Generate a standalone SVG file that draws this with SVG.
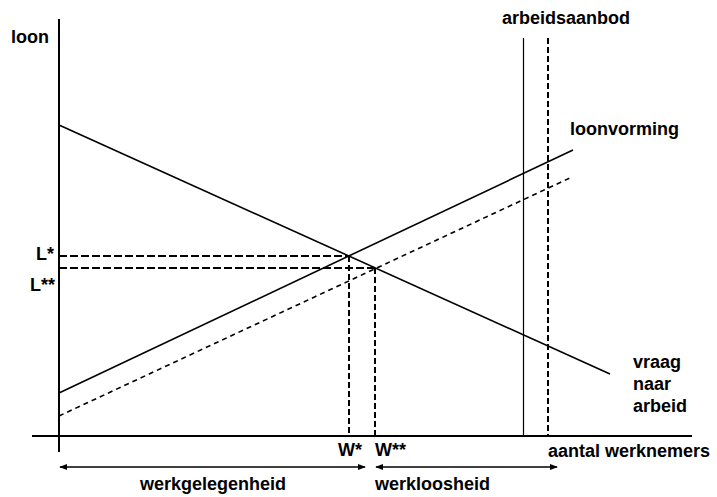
<svg xmlns="http://www.w3.org/2000/svg" width="717" height="497" viewBox="0 0 717 497">
<style>
text{font-family:"Liberation Sans",Arial,sans-serif;font-size:18px;font-weight:bold;fill:#000}
.ax{stroke:#000;stroke-width:2;fill:none}
.ln{stroke:#000;stroke-width:1.6;fill:none}
.thin{stroke:#000;stroke-width:1.2;fill:none}
.dsh{stroke:#000;stroke-width:1.6;fill:none;stroke-dasharray:5 4}
.dv{stroke:#000;stroke-width:2;fill:none;stroke-dasharray:6 3}
.dh{stroke:#000;stroke-width:2;fill:none;stroke-dasharray:8 3}
.arr{stroke:#000;stroke-width:1.6;fill:none;marker-start:url(#ah);marker-end:url(#ah)}
</style>
<defs>
<marker id="ah" viewBox="0 0 10 10" refX="9" refY="5" markerWidth="5" markerHeight="5" orient="auto-start-reverse" markerUnits="strokeWidth">
<path d="M0,1 L10,5 L0,9 Z" fill="#000"/>
</marker>
</defs>
<g id="connectors">
<line class="ax" x1="59" y1="19" x2="59" y2="452"/>
<line class="ax" x1="32" y1="436" x2="692" y2="436"/>
<line class="ln" x1="59" y1="125" x2="610" y2="374"/>
<line class="ln" x1="59" y1="393" x2="573" y2="150"/>
<line class="dsh" x1="59" y1="416" x2="572" y2="177"/>
<line class="thin" x1="523.5" y1="38" x2="523.5" y2="436"/>
<line class="dv" x1="548" y1="38" x2="548" y2="436"/>
<line class="dh" x1="59" y1="256" x2="349" y2="256"/>
<line class="dh" x1="59" y1="268" x2="375" y2="268"/>
<line class="dv" x1="349" y1="256" x2="349" y2="436"/>
<line class="dv" x1="375" y1="268" x2="375" y2="436"/>
<line class="arr" x1="60" y1="467" x2="365" y2="467"/>
<line class="arr" x1="376" y1="467" x2="557" y2="467"/>
</g>
<g id="axis-labels">
<text x="11" y="43">loon</text>
<text x="548" y="457">aantal werknemers</text>
</g>
<g id="supply-label"><text x="502" y="24">arbeidsaanbod</text></g>
<g id="wage-label"><text x="570" y="135">loonvorming</text></g>
<g id="demand-label">
<text x="633" y="368">vraag</text>
<text x="633" y="390">naar</text>
<text x="633" y="412">arbeid</text>
</g>
<g id="L-labels">
<text x="36" y="260">L*</text>
<text x="30" y="291">L**</text>
</g>
<g id="W-labels">
<text x="338" y="456">W*</text>
<text x="375" y="456">W**</text>
</g>
<g id="range-labels">
<text x="140" y="490">werkgelegenheid</text>
<text x="375" y="490">werkloosheid</text>
</g>
</svg>
